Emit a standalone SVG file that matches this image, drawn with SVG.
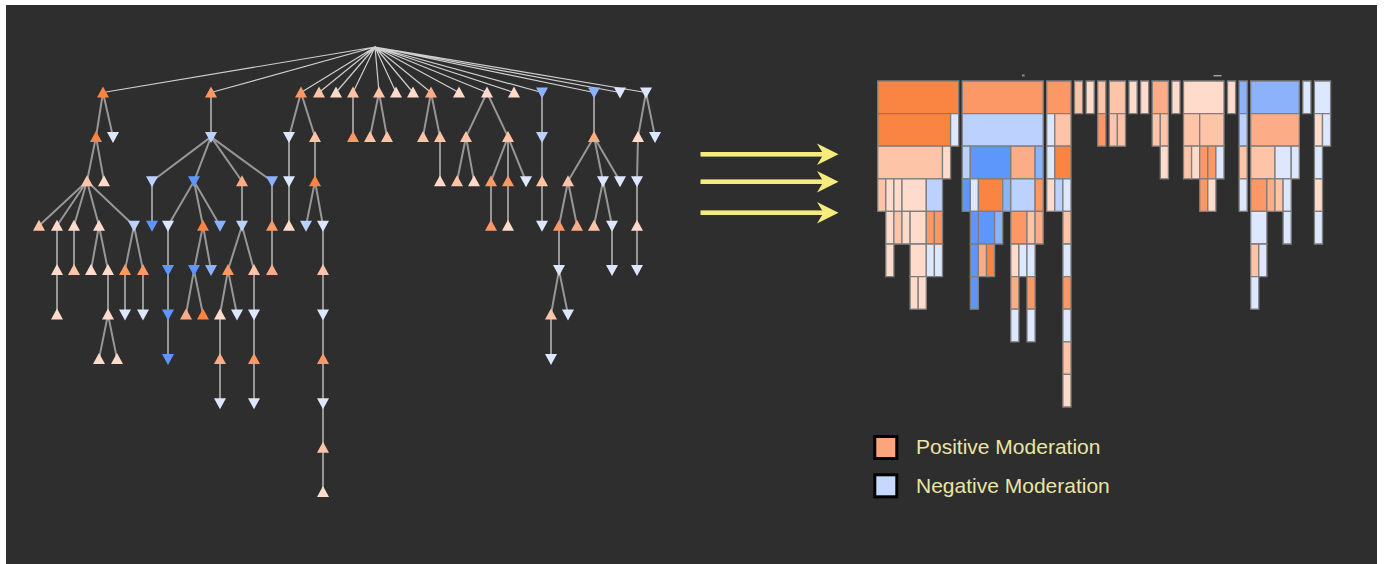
<svg xmlns="http://www.w3.org/2000/svg" xmlns:xlink="http://www.w3.org/1999/xlink" width="1384" height="564" viewBox="0 0 1384 564">
  <style>
    .o1{fill:#fa8441}
    .o2{fill:#fc9865}
    .o3{fill:#fcad88}
    .o4{fill:#fdc4a8}
    .o5{fill:#fedbcb}
    .b1{fill:#5e97fc}
    .b2{fill:#8db2fc}
    .b3{fill:#bcd1fd}
    .b4{fill:#dde7fd}
    .edge{fill:none;stroke:#979797;stroke-width:2}
    .rootedge{fill:none;stroke:#cfcfcf;stroke-width:1.2}
    .ic rect{stroke:#7e7e7e;stroke-width:1.3;vector-effect:non-scaling-stroke}
    .arrow{fill:#f6ec7e}
    .legend-text{font-family:"Liberation Sans",Arial,sans-serif;font-size:21px;fill:#e9e5a4}
    .key{stroke:#000;stroke-width:3}
  </style>
  <defs>
    <path id="u" d="M0,-6L6,5L-6,5Z"/>
    <path id="d" d="M-6,-5L6,-5L0,6Z"/>
  </defs>

  <rect x="0" y="0" width="1384" height="564" fill="#ffffff"/>
  <rect x="6" y="5" width="1371" height="559" fill="#2e2e2e"/>

  <!-- tree connectors -->
  <g id="connectors">
    <path class="rootedge" d="M375 47L103 92.5M375 47L211 92.5M375 47L301 92.5M375 47L319 92.5M375 47L336 92.5M375 47L353 92.5M375 47L379 92.5M375 47L396 92.5M375 47L413 92.5M375 47L431 92.5M375 47L459 92.5M375 47L487 92.5M375 47L514 92.5M375 47L542 92.5M375 47L594 92.5M375 47L620 92.5M375 47L646 92.5"/>
    <path class="edge" d="M103 92.5L96 136.9M103 92.5L113 136.9M96 136.9L87 181.3M96 136.9L104 181.3M87 181.3L39 225.7M87 181.3L57 225.7M87 181.3L74 225.7M87 181.3L99 225.7M87 181.3L134 225.7M57 225.7V314.5M74 225.7V270.1M99 225.7L91 270.1M99 225.7L108 270.1M108 270.1V314.5M108 314.5L99 358.9M108 314.5L117 358.9M134 225.7L125 270.1M134 225.7L143 270.1M125 270.1V314.5M143 270.1V314.5"/>
    <path class="edge" d="M211 92.5V136.9M211 136.9L152 181.3M211 136.9L194 181.3M211 136.9L242 181.3M211 136.9L272 181.3M152 181.3V225.7M194 181.3L168 225.7M194 181.3L203 225.7M194 181.3L220 225.7M168 225.7V358.9M203 225.7L194 270.1M203 225.7L211 270.1M194 270.1L186 314.5M194 270.1L203 314.5M242 181.3V225.7M242 225.7L228 270.1M242 225.7L254 270.1M228 270.1L220 314.5M228 270.1L237 314.5M220 314.5V403.3M254 270.1V403.3M272 181.3V270.1"/>
    <path class="edge" d="M301 92.5L289 136.9M301 92.5L315 136.9M289 136.9V225.7M315 136.9V181.3M315 181.3L306 225.7M315 181.3L323 225.7M323 225.7V492.1"/>
    <path class="edge" d="M353 92.5V136.9M379 92.5L370 136.9M379 92.5L387 136.9M431 92.5L423 136.9M431 92.5L440 136.9M440 136.9V181.3"/>
    <path class="edge" d="M487 92.5L466 136.9M487 92.5L508 136.9M466 136.9L457 181.3M466 136.9L474 181.3M508 136.9L491 181.3M508 136.9V225.7M508 136.9L526 181.3M491 181.3V225.7"/>
    <path class="edge" d="M542 92.5V225.7M594 92.5V136.9M594 136.9L568 181.3M594 136.9L603 181.3M594 136.9L620 181.3M568 181.3L559 225.7M568 181.3L577 225.7M559 225.7V270.1M559 270.1L551 314.5M559 270.1L568 314.5M551 314.5V358.9M603 181.3L594 225.7M603 181.3L612 225.7M612 225.7V270.1"/>
    <path class="edge" d="M646 92.5L638 136.9M646 92.5L655 136.9M638 136.9L637 181.3M637 181.3V270.1"/>
  </g>

  <!-- tree nodes: up = positive, down = negative -->
  <g id="branch-a">
    <use id="n-a" href="#u" x="103" y="92.5" class="o1"/>
    <use id="n-a1" href="#u" x="96" y="136.9" class="o1"/>
    <use id="n-a2" href="#d" x="113" y="136.9" class="b4"/>
    <use id="n-a11" href="#u" x="87" y="181.3" class="o4"/>
    <use id="n-a12" href="#u" x="104" y="181.3" class="o5"/>
    <use id="n-a111" href="#u" x="39" y="225.7" class="o4"/>
    <use id="n-a112" href="#u" x="57" y="225.7" class="o5"/>
    <use id="n-a113" href="#u" x="74" y="225.7" class="o5"/>
    <use id="n-a114" href="#u" x="99" y="225.7" class="o5"/>
    <use id="n-a115" href="#d" x="134" y="225.7" class="b3"/>
    <use id="n-a1121" href="#u" x="57" y="270.1" class="o5"/>
    <use id="n-a1131" href="#u" x="74" y="270.1" class="o4"/>
    <use id="n-a1141" href="#u" x="91" y="270.1" class="o5"/>
    <use id="n-a1142" href="#u" x="108" y="270.1" class="o5"/>
    <use id="n-a1151" href="#u" x="125" y="270.1" class="o2"/>
    <use id="n-a1152" href="#u" x="143" y="270.1" class="o2"/>
    <use id="n-a11211" href="#u" x="57" y="314.5" class="o5"/>
    <use id="n-a11421" href="#u" x="108" y="314.5" class="o5"/>
    <use id="n-a11511" href="#d" x="125" y="314.5" class="b4"/>
    <use id="n-a11521" href="#d" x="143" y="314.5" class="b4"/>
    <use id="n-a114211" href="#u" x="99" y="358.9" class="o5"/>
    <use id="n-a114212" href="#u" x="117" y="358.9" class="o5"/>
  </g>
  <g id="branch-b">
    <use id="n-b" href="#u" x="211" y="92.5" class="o2"/>
    <use id="n-b1" href="#d" x="211" y="136.9" class="b3"/>
    <use id="n-b11" href="#d" x="152" y="181.3" class="b3"/>
    <use id="n-b12" href="#d" x="194" y="181.3" class="b1"/>
    <use id="n-b13" href="#u" x="242" y="181.3" class="o3"/>
    <use id="n-b14" href="#d" x="272" y="181.3" class="b2"/>
    <use id="n-b111" href="#d" x="152" y="225.7" class="b1"/>
    <use id="n-b121" href="#d" x="168" y="225.7" class="b4"/>
    <use id="n-b122" href="#u" x="203" y="225.7" class="o1"/>
    <use id="n-b123" href="#d" x="220" y="225.7" class="b2"/>
    <use id="n-b131" href="#d" x="242" y="225.7" class="b3"/>
    <use id="n-b141" href="#u" x="272" y="225.7" class="o2"/>
    <use id="n-b1211" href="#d" x="168" y="270.1" class="b1"/>
    <use id="n-b1221" href="#d" x="194" y="270.1" class="b1"/>
    <use id="n-b1222" href="#d" x="211" y="270.1" class="b2"/>
    <use id="n-b1311" href="#u" x="228" y="270.1" class="o2"/>
    <use id="n-b1312" href="#u" x="254" y="270.1" class="o4"/>
    <use id="n-b1411" href="#u" x="272" y="270.1" class="o3"/>
    <use id="n-b12111" href="#d" x="168" y="314.5" class="b1"/>
    <use id="n-b12211" href="#u" x="186" y="314.5" class="o3"/>
    <use id="n-b12212" href="#u" x="203" y="314.5" class="o1"/>
    <use id="n-b13111" href="#u" x="220" y="314.5" class="o5"/>
    <use id="n-b13112" href="#d" x="237" y="314.5" class="b4"/>
    <use id="n-b13121" href="#d" x="254" y="314.5" class="b4"/>
    <use id="n-b121111" href="#d" x="168" y="358.9" class="b1"/>
    <use id="n-b131111" href="#u" x="220" y="358.9" class="o3"/>
    <use id="n-b131211" href="#u" x="254" y="358.9" class="o2"/>
    <use id="n-b1311111" href="#d" x="220" y="403.3" class="b4"/>
    <use id="n-b1312111" href="#d" x="254" y="403.3" class="b4"/>
  </g>
  <g id="branch-c">
    <use id="n-c" href="#u" x="301" y="92.5" class="o2"/>
    <use id="n-c1" href="#d" x="289" y="136.9" class="b4"/>
    <use id="n-c2" href="#u" x="315" y="136.9" class="o4"/>
    <use id="n-c11" href="#d" x="289" y="181.3" class="b4"/>
    <use id="n-c21" href="#u" x="315" y="181.3" class="o1"/>
    <use id="n-c111" href="#u" x="289" y="225.7" class="o5"/>
    <use id="n-c211" href="#d" x="306" y="225.7" class="b3"/>
    <use id="n-c212" href="#d" x="323" y="225.7" class="b4"/>
    <use id="n-c2121" href="#u" x="323" y="270.1" class="o4"/>
    <use id="n-c21211" href="#d" x="323" y="314.5" class="b4"/>
    <use id="n-c212111" href="#u" x="323" y="358.9" class="o2"/>
    <use id="n-c2121111" href="#d" x="323" y="403.3" class="b4"/>
    <use id="n-c21211111" href="#u" x="323" y="447.7" class="o4"/>
    <use id="n-c212111111" href="#u" x="323" y="492.1" class="o5"/>
  </g>
  <g id="branch-d"><use id="n-d" href="#u" x="319" y="92.5" class="o4"/></g>
  <g id="branch-e"><use id="n-e" href="#u" x="336" y="92.5" class="o5"/></g>
  <g id="branch-f">
    <use id="n-f" href="#u" x="353" y="92.5" class="o4"/>
    <use id="n-f1" href="#u" x="353" y="136.9" class="o2"/>
  </g>
  <g id="branch-g">
    <use id="n-g" href="#u" x="379" y="92.5" class="o4"/>
    <use id="n-g1" href="#u" x="370" y="136.9" class="o4"/>
    <use id="n-g2" href="#u" x="387" y="136.9" class="o4"/>
  </g>
  <g id="branch-h"><use id="n-h" href="#u" x="396" y="92.5" class="o5"/></g>
  <g id="branch-i"><use id="n-i" href="#u" x="413" y="92.5" class="o5"/></g>
  <g id="branch-j">
    <use id="n-j" href="#u" x="431" y="92.5" class="o3"/>
    <use id="n-j1" href="#u" x="423" y="136.9" class="o4"/>
    <use id="n-j2" href="#u" x="440" y="136.9" class="o4"/>
    <use id="n-j21" href="#u" x="440" y="181.3" class="o5"/>
  </g>
  <g id="branch-k"><use id="n-k" href="#u" x="459" y="92.5" class="o5"/></g>
  <g id="branch-l">
    <use id="n-l" href="#u" x="487" y="92.5" class="o5"/>
    <use id="n-l1" href="#u" x="466" y="136.9" class="o4"/>
    <use id="n-l2" href="#u" x="508" y="136.9" class="o4"/>
    <use id="n-l11" href="#u" x="457" y="181.3" class="o4"/>
    <use id="n-l12" href="#u" x="474" y="181.3" class="o5"/>
    <use id="n-l21" href="#u" x="491" y="181.3" class="o2"/>
    <use id="n-l22" href="#u" x="508" y="181.3" class="o2"/>
    <use id="n-l23" href="#d" x="526" y="181.3" class="b4"/>
    <use id="n-l211" href="#u" x="491" y="225.7" class="o2"/>
    <use id="n-l221" href="#u" x="508" y="225.7" class="o5"/>
  </g>
  <g id="branch-m"><use id="n-m" href="#u" x="514" y="92.5" class="o5"/></g>
  <g id="branch-n">
    <use id="n-n" href="#d" x="542" y="92.5" class="b2"/>
    <use id="n-n1" href="#d" x="542" y="136.9" class="b3"/>
    <use id="n-n11" href="#u" x="542" y="181.3" class="o4"/>
    <use id="n-n111" href="#d" x="542" y="225.7" class="b4"/>
  </g>
  <g id="branch-o">
    <use id="n-o" href="#d" x="594" y="92.5" class="b2"/>
    <use id="n-o1" href="#u" x="594" y="136.9" class="o3"/>
    <use id="n-o11" href="#u" x="568" y="181.3" class="o4"/>
    <use id="n-o12" href="#d" x="603" y="181.3" class="b4"/>
    <use id="n-o13" href="#d" x="620" y="181.3" class="b4"/>
    <use id="n-o111" href="#u" x="559" y="225.7" class="o2"/>
    <use id="n-o112" href="#u" x="577" y="225.7" class="o3"/>
    <use id="n-o121" href="#u" x="594" y="225.7" class="o4"/>
    <use id="n-o122" href="#d" x="612" y="225.7" class="b4"/>
    <use id="n-o1111" href="#d" x="559" y="270.1" class="b4"/>
    <use id="n-o1221" href="#d" x="612" y="270.1" class="b4"/>
    <use id="n-o11111" href="#u" x="551" y="314.5" class="o4"/>
    <use id="n-o11112" href="#d" x="568" y="314.5" class="b4"/>
    <use id="n-o111111" href="#d" x="551" y="358.9" class="b4"/>
  </g>
  <g id="branch-p"><use id="n-p" href="#d" x="620" y="92.5" class="b4"/></g>
  <g id="branch-q">
    <use id="n-q" href="#d" x="646" y="92.5" class="b4"/>
    <use id="n-q1" href="#u" x="638" y="136.9" class="o5"/>
    <use id="n-q2" href="#d" x="655" y="136.9" class="b4"/>
    <use id="n-q11" href="#d" x="637" y="181.3" class="b4"/>
    <use id="n-q111" href="#u" x="637" y="225.7" class="o5"/>
    <use id="n-q1111" href="#d" x="637" y="270.1" class="b4"/>
  </g>

  <!-- transformation arrows -->
  <g id="arrows" class="arrow">
    <rect x="700.5" y="152" width="124" height="4.6"/>
    <path d="M838.5,154.3L817,143.6L823.5,154.3L817,165Z"/>
    <rect x="700.5" y="179.4" width="124" height="4.6"/>
    <path d="M838.5,181.7L817,171L823.5,181.7L817,192.4Z"/>
    <rect x="700.5" y="210.4" width="124" height="4.6"/>
    <path d="M838.5,212.7L817,202L823.5,212.7L817,223.4Z"/>
  </g>

  <!-- icicle: columns in leaf units (8.1px), rows 32.6px -->
  <g id="icicle" class="ic">
    <g id="ic-a" transform="translate(877.7,81) scale(8.1,32.6)">
      <rect class="o1" x="0" y="0" width="10" height="1"/>
      <rect class="o1" x="0" y="1" width="9" height="1"/>
      <rect class="b4" x="9" y="1" width="1" height="1"/>
      <rect class="o4" x="0" y="2" width="8" height="1"/>
      <rect class="o5" x="8" y="2" width="1" height="1"/>
      <rect class="o4" x="0" y="3" width="1" height="1"/>
      <rect class="o5" x="1" y="3" width="1" height="1"/>
      <rect class="o5" x="2" y="3" width="1" height="1"/>
      <rect class="o5" x="3" y="3" width="3" height="1"/>
      <rect class="b3" x="6" y="3" width="2" height="1"/>
      <rect class="o5" x="1" y="4" width="1" height="1"/>
      <rect class="o4" x="2" y="4" width="1" height="1"/>
      <rect class="o5" x="3" y="4" width="1" height="1"/>
      <rect class="o5" x="4" y="4" width="2" height="1"/>
      <rect class="o2" x="6" y="4" width="1" height="1"/>
      <rect class="o2" x="7" y="4" width="1" height="1"/>
      <rect class="o5" x="1" y="5" width="1" height="1"/>
      <rect class="o5" x="4" y="5" width="2" height="1"/>
      <rect class="b4" x="6" y="5" width="1" height="1"/>
      <rect class="b4" x="7" y="5" width="1" height="1"/>
      <rect class="o5" x="4" y="6" width="1" height="1"/>
      <rect class="o5" x="5" y="6" width="1" height="1"/>
    </g>
    <g id="ic-b" transform="translate(962.2,81) scale(8.1,32.6)">
      <rect class="o2" x="0" y="0" width="10" height="1"/>
      <rect class="b3" x="0" y="1" width="10" height="1"/>
      <rect class="b3" x="0" y="2" width="1" height="1"/>
      <rect class="b1" x="1" y="2" width="5" height="1"/>
      <rect class="o3" x="6" y="2" width="3" height="1"/>
      <rect class="b2" x="9" y="2" width="1" height="1"/>
      <rect class="b1" x="0" y="3" width="1" height="1"/>
      <rect class="b4" x="1" y="3" width="1" height="1"/>
      <rect class="o1" x="2" y="3" width="3" height="1"/>
      <rect class="b2" x="5" y="3" width="1" height="1"/>
      <rect class="b3" x="6" y="3" width="3" height="1"/>
      <rect class="o2" x="9" y="3" width="1" height="1"/>
      <rect class="b1" x="1" y="4" width="1" height="1"/>
      <rect class="b1" x="2" y="4" width="2" height="1"/>
      <rect class="b2" x="4" y="4" width="1" height="1"/>
      <rect class="o2" x="6" y="4" width="2" height="1"/>
      <rect class="o4" x="8" y="4" width="1" height="1"/>
      <rect class="o3" x="9" y="4" width="1" height="1"/>
      <rect class="b1" x="1" y="5" width="1" height="1"/>
      <rect class="o3" x="2" y="5" width="1" height="1"/>
      <rect class="o1" x="3" y="5" width="1" height="1"/>
      <rect class="o5" x="6" y="5" width="1" height="1"/>
      <rect class="b4" x="7" y="5" width="1" height="1"/>
      <rect class="b4" x="8" y="5" width="1" height="1"/>
      <rect class="b1" x="1" y="6" width="1" height="1"/>
      <rect class="o3" x="6" y="6" width="1" height="1"/>
      <rect class="o2" x="8" y="6" width="1" height="1"/>
      <rect class="b4" x="6" y="7" width="1" height="1"/>
      <rect class="b4" x="8" y="7" width="1" height="1"/>
    </g>
    <g id="ic-c" transform="translate(1046.7,81) scale(8.1,32.6)">
      <rect class="o2" x="0" y="0" width="3" height="1"/>
      <rect class="b4" x="0" y="1" width="1" height="1"/>
      <rect class="o4" x="1" y="1" width="2" height="1"/>
      <rect class="b4" x="0" y="2" width="1" height="1"/>
      <rect class="o1" x="1" y="2" width="2" height="1"/>
      <rect class="o5" x="0" y="3" width="1" height="1"/>
      <rect class="b3" x="1" y="3" width="1" height="1"/>
      <rect class="b4" x="2" y="3" width="1" height="1"/>
      <rect class="o4" x="2" y="4" width="1" height="1"/>
      <rect class="b4" x="2" y="5" width="1" height="1"/>
      <rect class="o2" x="2" y="6" width="1" height="1"/>
      <rect class="b4" x="2" y="7" width="1" height="1"/>
      <rect class="o4" x="2" y="8" width="1" height="1"/>
      <rect class="o5" x="2" y="9" width="1" height="1"/>
    </g>
    <g id="ic-d" transform="translate(1074.5,81) scale(8.1,32.6)">
      <rect class="o4" x="0" y="0" width="1" height="1"/>
    </g>
    <g id="ic-e" transform="translate(1086.1,81) scale(8.1,32.6)">
      <rect class="o5" x="0" y="0" width="1" height="1"/>
    </g>
    <g id="ic-f" transform="translate(1097.7,81) scale(8.1,32.6)">
      <rect class="o4" x="0" y="0" width="1" height="1"/>
      <rect class="o2" x="0" y="1" width="1" height="1"/>
    </g>
    <g id="ic-g" transform="translate(1109.3,81) scale(8.1,32.6)">
      <rect class="o4" x="0" y="0" width="2" height="1"/>
      <rect class="o4" x="0" y="1" width="1" height="1"/>
      <rect class="o4" x="1" y="1" width="1" height="1"/>
    </g>
    <g id="ic-h" transform="translate(1129,81) scale(8.1,32.6)">
      <rect class="o5" x="0" y="0" width="1" height="1"/>
    </g>
    <g id="ic-i" transform="translate(1140.6,81) scale(8.1,32.6)">
      <rect class="o5" x="0" y="0" width="1" height="1"/>
    </g>
    <g id="ic-j" transform="translate(1152.2,81) scale(8.1,32.6)">
      <rect class="o3" x="0" y="0" width="2" height="1"/>
      <rect class="o4" x="0" y="1" width="1" height="1"/>
      <rect class="o4" x="1" y="1" width="1" height="1"/>
      <rect class="o5" x="1" y="2" width="1" height="1"/>
    </g>
    <g id="ic-k" transform="translate(1171.9,81) scale(8.1,32.6)">
      <rect class="o5" x="0" y="0" width="1" height="1"/>
    </g>
    <g id="ic-l" transform="translate(1183.5,81) scale(8.1,32.6)">
      <rect class="o5" x="0" y="0" width="5" height="1"/>
      <rect class="o4" x="0" y="1" width="2" height="1"/>
      <rect class="o4" x="2" y="1" width="3" height="1"/>
      <rect class="o4" x="0" y="2" width="1" height="1"/>
      <rect class="o5" x="1" y="2" width="1" height="1"/>
      <rect class="o2" x="2" y="2" width="1" height="1"/>
      <rect class="o2" x="3" y="2" width="1" height="1"/>
      <rect class="b4" x="4" y="2" width="1" height="1"/>
      <rect class="o2" x="2" y="3" width="1" height="1"/>
      <rect class="o5" x="3" y="3" width="1" height="1"/>
    </g>
    <g id="ic-m" transform="translate(1227.5,81) scale(8.1,32.6)">
      <rect class="o5" x="0" y="0" width="1" height="1"/>
    </g>
    <g id="ic-n" transform="translate(1239.1,81) scale(8.1,32.6)">
      <rect class="b2" x="0" y="0" width="1" height="1"/>
      <rect class="b3" x="0" y="1" width="1" height="1"/>
      <rect class="o4" x="0" y="2" width="1" height="1"/>
      <rect class="b4" x="0" y="3" width="1" height="1"/>
    </g>
    <g id="ic-o" transform="translate(1250.7,81) scale(8.1,32.6)">
      <rect class="b2" x="0" y="0" width="6" height="1"/>
      <rect class="o3" x="0" y="1" width="6" height="1"/>
      <rect class="o4" x="0" y="2" width="3" height="1"/>
      <rect class="b4" x="3" y="2" width="2" height="1"/>
      <rect class="b4" x="5" y="2" width="1" height="1"/>
      <rect class="o2" x="0" y="3" width="2" height="1"/>
      <rect class="o3" x="2" y="3" width="1" height="1"/>
      <rect class="o4" x="3" y="3" width="1" height="1"/>
      <rect class="b4" x="4" y="3" width="1" height="1"/>
      <rect class="b4" x="0" y="4" width="2" height="1"/>
      <rect class="b4" x="4" y="4" width="1" height="1"/>
      <rect class="o4" x="0" y="5" width="1" height="1"/>
      <rect class="b4" x="1" y="5" width="1" height="1"/>
      <rect class="b4" x="0" y="6" width="1" height="1"/>
    </g>
    <g id="ic-p" transform="translate(1302.8,81) scale(8.1,32.6)">
      <rect class="b4" x="0" y="0" width="1" height="1"/>
    </g>
    <g id="ic-q" transform="translate(1314.4,81) scale(8.1,32.6)">
      <rect class="b4" x="0" y="0" width="2" height="1"/>
      <rect class="o5" x="0" y="1" width="1" height="1"/>
      <rect class="b4" x="1" y="1" width="1" height="1"/>
      <rect class="b4" x="0" y="2" width="1" height="1"/>
      <rect class="o5" x="0" y="3" width="1" height="1"/>
      <rect class="b4" x="0" y="4" width="1" height="1"/>
    </g>
  </g>
  <rect x="1022" y="74.5" width="2.6" height="2" fill="#8a8a8a"/>
  <rect x="1213.5" y="75" width="8" height="1.4" fill="#a8a8a8"/>

  <!-- legend -->
  <g id="legend">
    <rect class="key" x="874.8" y="436.5" width="22" height="22" fill="#fca57d"/>
    <text class="legend-text" x="916" y="454.3">Positive Moderation</text>
    <rect class="key" x="874.8" y="474.8" width="22" height="22" fill="#c6d8fd"/>
    <text class="legend-text" x="916" y="492.7">Negative Moderation</text>
  </g>
</svg>
